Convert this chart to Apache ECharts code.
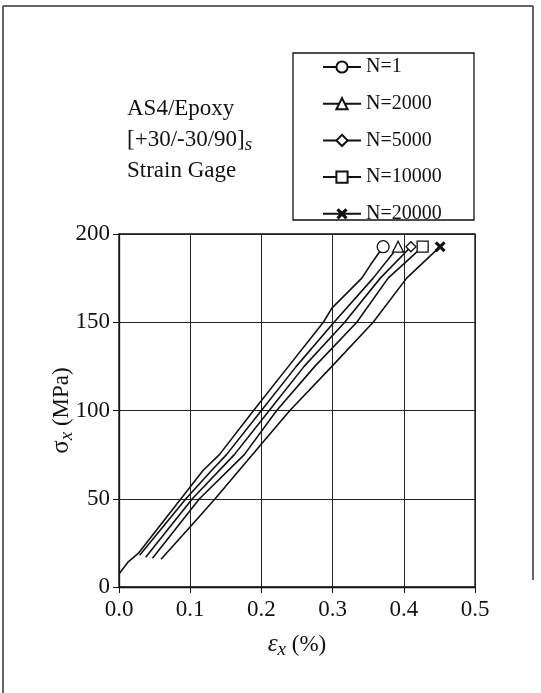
<!DOCTYPE html>
<html>
<head>
<meta charset="utf-8">
<script src="https://cdn.jsdelivr.net/npm/echarts@6/dist/echarts.min.js"></script>
<style>
html,body{margin:0;padding:0;background:#fff;}
#c{width:541px;height:693px;}
</style>
</head>
<body>
<div id="c"></div>
<script>
// ---- data ----
const seriesNames = ['N=1', 'N=2000', 'N=5000', 'N=10000', 'N=20000'];
const strainN1 = [0.000, 0.013, 0.027, 0.087, 0.118, 0.141, 0.189, 0.238, 0.287, 0.299, 0.341, 0.353, 0.371];
const stressN1 = [7.4, 14.3, 19, 50, 66, 75, 100, 125, 150, 158, 175, 182.4, 192.8];
const strainN2000 = [0.029, 0.094, 0.130, 0.151, 0.200, 0.249, 0.302, 0.357, 0.392];
const stressN2000 = [18, 50, 66, 75, 100, 125, 150, 175, 192.8];
const strainN5000 = [0.0375, 0.103, 0.162, 0.211, 0.260, 0.317, 0.367, 0.410];
const stressN5000 = [16.8, 50, 75, 100, 125, 150, 175, 192.8];
const strainN10000 = [0.047, 0.113, 0.176, 0.2215, 0.275, 0.334, 0.378, 0.4265];
const stressN10000 = [16.3, 50, 75, 100, 125, 150, 175, 192.8];
const strainN20000 = [0.059, 0.102, 0.135, 0.200, 0.240, 0.299, 0.357, 0.404, 0.451];
const stressN20000 = [15.7, 35, 50, 81, 100, 125, 150, 175, 192.8];
const xTicks = [0.0, 0.1, 0.2, 0.3, 0.4, 0.5];
const yTicks = [0, 50, 100, 150, 200];

const strains = [strainN1, strainN2000, strainN5000, strainN10000, strainN20000];
const stresses = [stressN1, stressN2000, stressN5000, stressN10000, stressN20000];

const XPATH = 'path://M0,2 L2,0 L5,3 L8,0 L10,2 L7,5 L10,8 L8,10 L5,7 L2,10 L0,8 L3,5 Z';
const symbols = ['circle', 'triangle', 'diamond', 'rect', XPATH];
const symSizes = [12, 11, 10, 11, 11];
const FONT = '"Liberation Serif", "Times New Roman", serif';

function buildData(xs, ys) {
  return xs.map((x, i) => {
    const item = { value: [x, ys[i]] };
    if (i !== xs.length - 1) item.symbol = 'none';
    return item;
  });
}

const series = seriesNames.map((name, k) => ({
  name: name,
  type: 'line',
  data: buildData(strains[k], stresses[k]),
  symbol: symbols[k],
  symbolSize: symSizes[k],
  showSymbol: true,
  showAllSymbol: true,
  smooth: false,
  lineStyle: { color: '#111', width: 1.6 },
  itemStyle: {
    color: k === 4 ? '#111' : '#fff',
    borderColor: '#111',
    borderWidth: k === 4 ? 0 : 1.3
  },
  emphasis: { disabled: true },
  z: 3
}));

const chart = echarts.init(document.getElementById('c'), null, { renderer: 'canvas' });
chart.setOption({
  animation: false,
  backgroundColor: '#fff',
  textStyle: { fontFamily: FONT },
  grid: { left: 119, top: 234, width: 356, height: 353, show: true, borderColor: '#111', borderWidth: 1.3, backgroundColor: 'transparent' },
  xAxis: {
    type: 'value', min: 0, max: 0.5, interval: 0.1,
    axisLine: { show: true, lineStyle: { color: '#111', width: 1.3 } },
    axisTick: { show: true, inside: false, length: 6, lineStyle: { color: '#111' } },
    splitLine: { show: true, lineStyle: { color: '#222', width: 1 } },
    axisLabel: { margin: 11, fontSize: 23, color: '#111', fontFamily: FONT,
      formatter: v => { const t = xTicks.find(a => Math.abs(a - v) < 1e-9); return (t !== undefined ? t : v).toFixed(1); } },
    name: '{e|ε}{s|x}{n| (%)}',
    nameLocation: 'middle', nameGap: 43, nameMoveOverlap: false,
    nameTextStyle: {
      rich: {
        e: { fontSize: 25, fontFamily: FONT, fontStyle: 'italic', color: '#111' },
        s: { fontSize: 19, fontFamily: FONT, fontStyle: 'italic', color: '#111', padding: [10, 0, 0, 0] },
        n: { fontSize: 23, fontFamily: FONT, color: '#111' }
      }
    }
  },
  yAxis: {
    type: 'value', min: 0, max: 200, interval: 50,
    axisLine: { show: true, lineStyle: { color: '#111', width: 1.3 } },
    axisTick: { show: true, inside: false, length: 6, lineStyle: { color: '#111' } },
    splitLine: { show: true, lineStyle: { color: '#222', width: 1 } },
    axisLabel: { margin: 9, fontSize: 23, color: '#111', fontFamily: FONT,
      formatter: v => String(yTicks.find(a => a === v) !== undefined ? v : v) },
    name: '{g|σ}{s|x}{n| (MPa)}',
    nameLocation: 'middle', nameGap: 43, nameRotate: 90, nameMoveOverlap: false,
    nameTextStyle: {
      rich: {
        g: { fontSize: 25, fontFamily: FONT, color: '#111' },
        s: { fontSize: 19, fontFamily: FONT, fontStyle: 'italic', color: '#111', padding: [10, 0, 0, 0] },
        n: { fontSize: 23, fontFamily: FONT, color: '#111' }
      }
    }
  },
  legend: {
    orient: 'vertical', left: 322, top: 57, padding: 0,
    itemWidth: 38, itemHeight: 14, itemGap: 16.7,
    textStyle: { fontSize: 20, fontFamily: FONT, color: '#111', lineHeight: 20 },
    data: seriesNames
  },
  graphic: [
    { type: 'line', shape: { x1: 3, y1: 6, x2: 533, y2: 6 }, style: { stroke: '#333', lineWidth: 1.5 } },
    { type: 'line', shape: { x1: 3, y1: 6, x2: 3, y2: 693 }, style: { stroke: '#333', lineWidth: 1.5 } },
    { type: 'line', shape: { x1: 533, y1: 6, x2: 533, y2: 580 }, style: { stroke: '#333', lineWidth: 1.5 } },
    { type: 'rect', shape: { x: 293, y: 53, width: 181, height: 167 }, style: { fill: 'none', stroke: '#111', lineWidth: 1.3 }, z: 1 },
    { type: 'text', left: 127, top: 97, z: 5,
      style: {
        text: '{t|AS4/Epoxy}\n{t|[+30/-30/90]}{s|s}\n{t|Strain Gage}',
        rich: {
          t: { fontSize: 23, fontFamily: FONT, fill: '#111', lineHeight: 31 },
          s: { fontSize: 19, fontFamily: FONT, fontStyle: 'italic', fill: '#111', lineHeight: 31, padding: [10, 0, 0, 0] }
        }
      }
    }
  ],
  series: series
});
</script>
</body>
</html>
